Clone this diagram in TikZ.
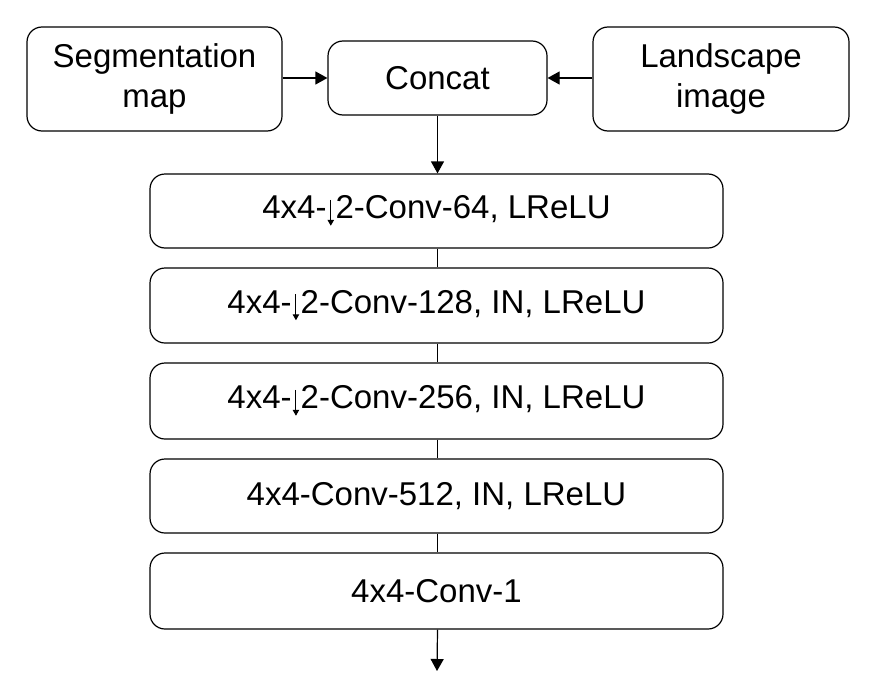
\documentclass[tikz,border=0pt]{standalone}
\usepackage{fontspec}
\setmainfont{Liberation Sans}
\usetikzlibrary{arrows.meta}
\newcommand{\dnarrow}{\kern1pt\tikz[baseline=0pt,x=1pt,y=1pt]{\draw[line width=1pt,-{Triangle[length=6pt,width=6.5pt]}] (0,19) -- (0,-7);}\kern1.5pt}
\begin{document}
\begin{tikzpicture}[x=1pt,y=-1pt,
  box/.style={draw, line width=1.2pt, rounded corners=15pt, inner sep=0pt, align=center,
    font=\fontsize{33}{40}\selectfont},
  conn/.style={line width=1.2pt},
  arr/.style={conn, -{Triangle[length=12pt,width=13pt]}}]
\useasboundingbox (0,0) rectangle (874,693);
\node[box, minimum width=255pt, minimum height=104pt] (seg) at (154.5,79) {Segmentation\\map};
\node[box, minimum width=256pt, minimum height=104pt] (land) at (721,79) {Landscape\\image};
\node[box, minimum width=219pt, minimum height=74pt] (cat) at (437.5,78) {Concat};
\node[box, minimum width=573pt, minimum height=74pt] (b1) at (436.5,211) {4x4-\dnarrow2-Conv-64, LReLU};
\node[box, minimum width=573pt, minimum height=75pt] (b2) at (436.5,305.5) {4x4-\dnarrow2-Conv-128, IN, LReLU};
\node[box, minimum width=573pt, minimum height=76pt] (b3) at (436.5,401) {4x4-\dnarrow2-Conv-256, IN, LReLU};
\node[box, minimum width=573pt, minimum height=74pt] (b4) at (436.5,496) {4x4-Conv-512, IN, LReLU};
\node[box, minimum width=573pt, minimum height=76pt] (b5) at (436.5,591) {4x4-Conv-1};
\coordinate (out) at (437,671);
\draw[arr] (seg.east |- cat.west) -- (cat.west);
\draw[arr] (land.west |- cat.east) -- (cat.east);
\draw[arr] (cat.south) -- (cat.south |- b1.north);
\draw[conn] (cat.south |- b1.south) -- (cat.south |- b2.north);
\draw[conn] (cat.south |- b2.south) -- (cat.south |- b3.north);
\draw[conn] (cat.south |- b3.south) -- (cat.south |- b4.north);
\draw[conn] (cat.south |- b4.south) -- (cat.south |- b5.north);
\draw[arr] (cat.south |- b5.south) -- (out);
\end{tikzpicture}
\end{document}
